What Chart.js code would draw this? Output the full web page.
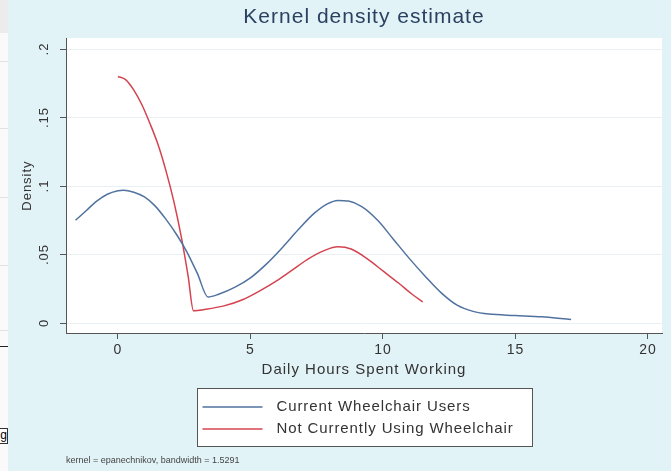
<!DOCTYPE html>
<html lang="en">
<head>
  <meta charset="UTF-8">
  <title>Kernel density estimate</title>
  <script src="https://cdn.jsdelivr.net/npm/chart.js"></script>
</head>
<style>
  body {
    margin: 0;
    padding: 0;
    background: #e2f3f8;
  }

  .wrap {
    position: relative;
    width: 671px;
    height: 471px;
  }

  /* strip of the neighbouring window on the left */
  .side {
    position: absolute;
    left: 0;
    top: 0;
    width: 8px;
    height: 471px;
    background: #fafafa;
    overflow: hidden;
    z-index: 2;
  }
  .side .head { position: absolute; left: 0; top: 0; width: 8px; height: 33px; background: #ececec; }
  .side .rule { position: absolute; left: 0; width: 8px; height: 1px; background: #e2e2e2; }
  .side .dark { position: absolute; left: 0; top: 346px; width: 8px; height: 1px; background: #222; }
  .side .btn {
    position: absolute; left: -10px; top: 428px; width: 16px; height: 14px;
    border: 1px solid #333; background: #fff;
    font: 12px "Liberation Sans", Arial, sans-serif; line-height: 13px; text-align: right;
  }
</style>

<body>
<div class="wrap">
  <div class="side">
    <div class="head"></div>
    <div class="rule" style="top:61px"></div>
    <div class="rule" style="top:128px"></div>
    <div class="rule" style="top:197px"></div>
    <div class="rule" style="top:265px"></div>
    <div class="rule" style="top:330px"></div>
    <div class="dark"></div>
    <div class="btn">g</div>
  </div>
  <canvas id="kdensity" width="671" height="471"></canvas>
</div>

<script>
  // axis ticks
  const xTicks = [0, 5, 10, 15, 20];
  const yTicks = [0, 0.05, 0.1, 0.15, 0.2];
  const yTickLabels = ['0', '.05', '.1', '.15', '.2'];

  const seriesNames = ['Current Wheelchair Users', 'Not Currently Using Wheelchair'];

  // density curve, current users
  const usersHours = [-1.6, -1.2, -0.8, -0.4, 0.0, 0.2, 0.6, 1.0, 1.4, 1.8, 2.2, 2.6, 3.0, 3.4,
    3.8, 4.4, 5.0, 5.6, 6.2, 6.8, 7.4, 7.9, 8.3, 8.7, 9.2, 9.8, 10.4, 11.0, 11.6, 12.2, 12.8,
    13.4, 14.0, 15.0, 16.0, 16.6, 17.1];
  const usersDensity = [0.075, 0.082, 0.089, 0.094, 0.0965, 0.097, 0.0955, 0.092, 0.0855, 0.076,
    0.065, 0.052, 0.036, 0.019, 0.021, 0.026, 0.033, 0.043, 0.055, 0.068, 0.080, 0.087, 0.0895,
    0.089, 0.085, 0.075, 0.061, 0.047, 0.034, 0.022, 0.013, 0.0085, 0.0065, 0.0055, 0.0045,
    0.0035, 0.0025];

  // density curve, not using a wheelchair
  const nonUsersHours = [0.0, 0.3, 0.6, 0.9, 1.2, 1.5, 1.8, 2.1, 2.4, 2.65, 2.85, 3.3, 4.0, 4.7,
    5.4, 6.0, 6.6, 7.2, 7.8, 8.3, 8.8, 9.4, 10.0, 10.6, 11.1, 11.5];
  const nonUsersDensity = [0.180, 0.1775, 0.170, 0.1595, 0.146, 0.131, 0.112, 0.0895, 0.062,
    0.034, 0.009, 0.010, 0.0125, 0.017, 0.024, 0.031, 0.039, 0.047, 0.053, 0.0556, 0.054, 0.047,
    0.038, 0.029, 0.021, 0.0155];

  const noteText = 'kernel = epanechnikov, bandwidth = 1.5291';

  const FONT = '"Liberation Sans", Arial, sans-serif';
  const TEXT = '#333333';

  function toPoints(xs, ys) {
    return xs.map((x, i) => ({ x: x, y: ys[i] }));
  }

  // light blue graph region with a white plot region; text is drawn a bit wider
  const regionPlugin = {
    id: 'region',
    beforeLayout(chart) {
      chart.ctx.letterSpacing = '1px';
    },
    beforeDraw(chart) {
      const { ctx, chartArea } = chart;
      ctx.save();
      ctx.fillStyle = '#e2f3f8';
      ctx.fillRect(0, 0, chart.width, chart.height);
      ctx.fillStyle = '#ffffff';
      ctx.fillRect(chartArea.left, chartArea.top, chartArea.right - chartArea.left, chartArea.bottom - chartArea.top);
      ctx.restore();
      ctx.letterSpacing = '1px';
    }
  };

  // boxed legend below the axis title, plus the kernel note
  const boxLegendPlugin = {
    id: 'boxLegend',
    afterDraw(chart) {
      const { ctx, chartArea } = chart;
      const w = 335, h = 58, top = 388;
      const left = Math.round((chartArea.left + chartArea.right) / 2 - w / 2) + 0.5;
      ctx.save();
      ctx.fillStyle = '#ffffff';
      ctx.fillRect(left, top + 0.5, w, h);
      ctx.strokeStyle = '#555555';
      ctx.lineWidth = 1;
      ctx.strokeRect(left, top + 0.5, w, h);

      ctx.font = '15px ' + FONT;
      ctx.letterSpacing = '0.9px';
      ctx.textBaseline = 'middle';
      ctx.textAlign = 'left';
      chart.data.datasets.forEach((ds, i) => {
        const y = top + 19 + i * 22;
        ctx.strokeStyle = ds.borderColor;
        ctx.lineWidth = 1.5;
        ctx.beginPath();
        ctx.moveTo(left + 5, y);
        ctx.lineTo(left + 65, y);
        ctx.stroke();
        ctx.fillStyle = TEXT;
        ctx.fillText(ds.label, left + 79, y);
      });

      ctx.font = '9px ' + FONT;
      ctx.letterSpacing = '0px';
      ctx.fillStyle = '#444444';
      ctx.fillText(noteText, chartArea.left, 461);
      ctx.restore();
    }
  };

  const ctx = document.getElementById('kdensity').getContext('2d');
  const kdensityChart = new Chart(ctx, {
    type: 'line',
    data: {
      datasets: [{
        label: seriesNames[0],
        data: toPoints(usersHours, usersDensity),
        borderColor: '#50729f',
        borderWidth: 1.5,
        pointRadius: 0,
        cubicInterpolationMode: 'monotone',
        fill: false
      }, {
        label: seriesNames[1],
        data: toPoints(nonUsersHours, nonUsersDensity),
        borderColor: '#d4434f',
        borderWidth: 1.5,
        pointRadius: 0,
        cubicInterpolationMode: 'monotone',
        fill: false
      }]
    },
    options: {
      responsive: false,
      animation: false,
      layout: { padding: { left: 0, right: 9, top: 0, bottom: 88 } },
      plugins: {
        legend: { display: false },
        tooltip: { enabled: false },
        title: {
          display: true,
          fullSize: false,
          text: 'Kernel density estimate',
          color: '#2b4160',
          font: { family: FONT, size: 21, weight: 'normal', lineHeight: 1.1 },
          padding: { top: 6, bottom: 9 }
        }
      },
      scales: {
        x: {
          type: 'linear',
          min: -1.96,
          max: 20.53,
          afterBuildTicks: (scale) => { scale.ticks = xTicks.map(v => ({ value: v })); },
          afterFit: (scale) => { scale.height = 50; },
          ticks: {
            color: TEXT,
            font: { family: FONT, size: 14 },
            padding: 3,
            maxRotation: 0
          },
          grid: { drawOnChartArea: false, tickLength: 6, tickColor: '#555555' },
          border: { color: '#555555', width: 1 },
          title: {
            display: true,
            text: 'Daily Hours Spent Working',
            color: TEXT,
            font: { family: FONT, size: 15 },
            padding: { top: 0, bottom: 4 }
          }
        },
        y: {
          type: 'linear',
          min: -0.0073,
          max: 0.208,
          afterBuildTicks: (scale) => { scale.ticks = yTicks.map(v => ({ value: v })); },
          afterFit: (scale) => { scale.width = 66; },
          ticks: {
            color: TEXT,
            font: { family: FONT, size: 13 },
            padding: 5,
            minRotation: 90,
            maxRotation: 90,
            crossAlign: 'center',
            callback: (value) => yTickLabels[yTicks.indexOf(value)]
          },
          grid: { color: '#e8f0f3', tickLength: 6, tickColor: '#555555' },
          border: { color: '#555555', width: 1 },
          title: {
            display: true,
            text: 'Density',
            color: TEXT,
            font: { family: FONT, size: 13 },
            padding: { top: 20, bottom: 0 }
          }
        }
      }
    },
    plugins: [regionPlugin, boxLegendPlugin]
  });
</script>

</body>
</html>
